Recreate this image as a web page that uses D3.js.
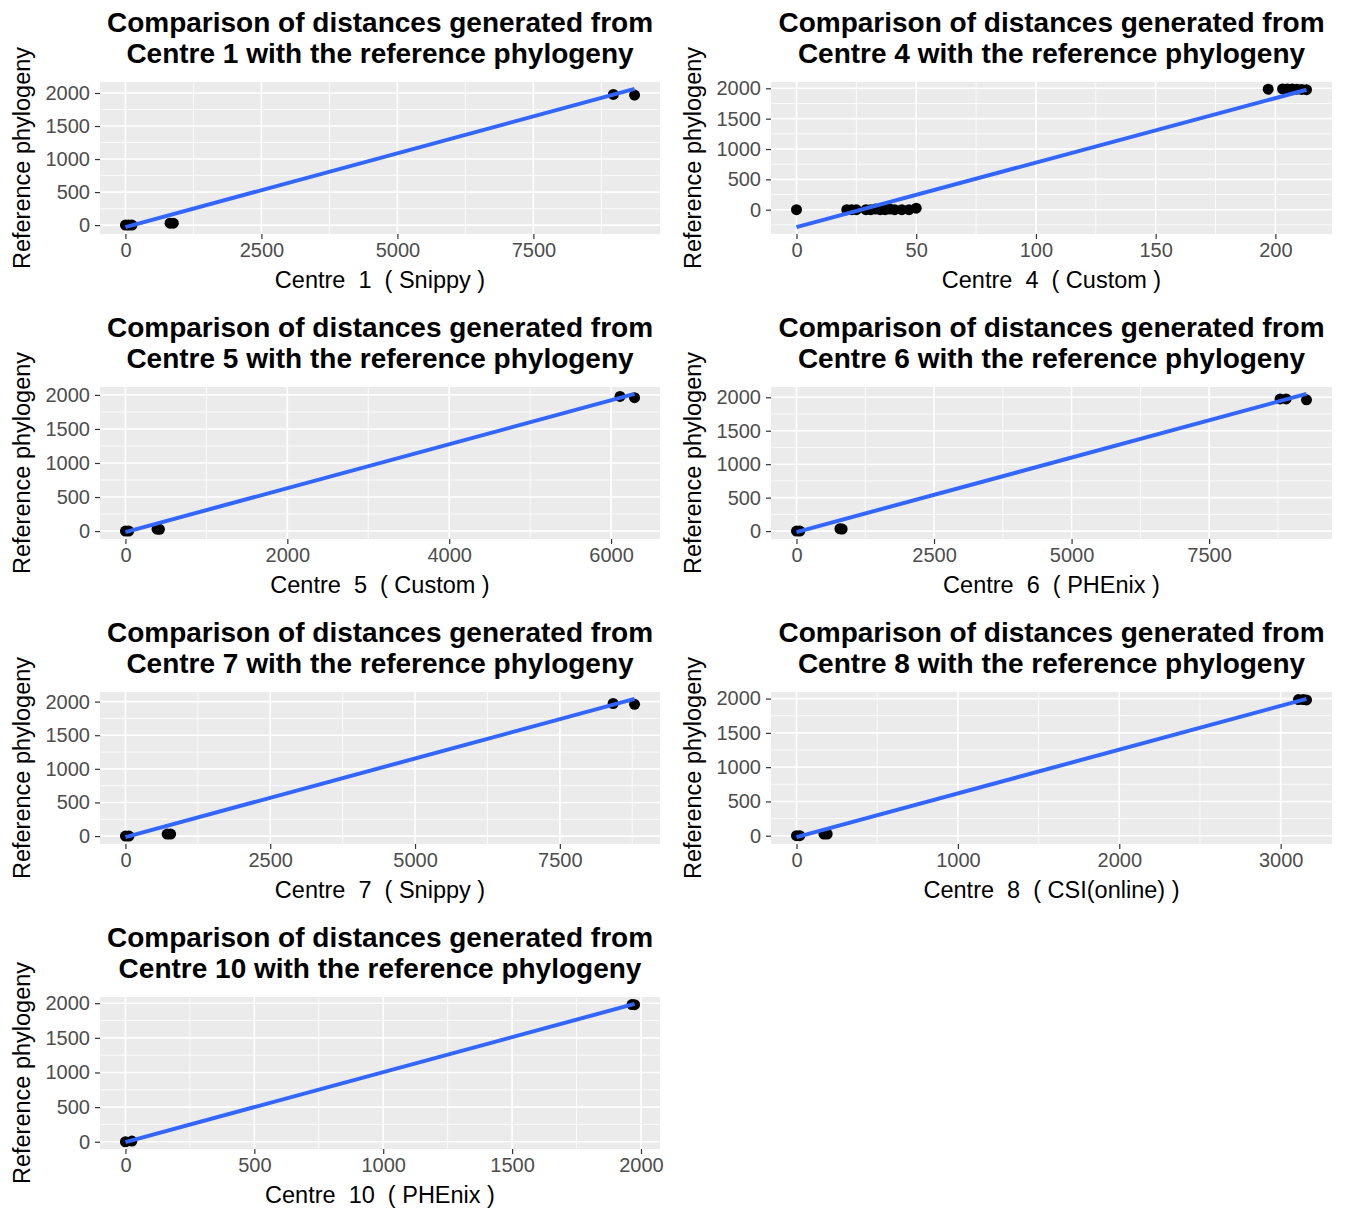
<!DOCTYPE html>
<html>
<head>
<meta charset="utf-8">
<script src="https://cdn.jsdelivr.net/npm/d3@7"></script>
<style>
  html, body { margin: 0; padding: 0; background: #ffffff; }
  svg text { font-family: "Liberation Sans", Arial, Helvetica, sans-serif; }
</style>
</head>
<body>
<svg id="chart" width="1348" height="1209"></svg>
<script>
// ---------------- DATA ----------------
const centres   = ["1", "4", "5", "6", "7", "8", "10"];
const pipelines = ["Snippy", "Custom", "Custom", "PHEnix", "Snippy", "CSI(online)", "PHEnix"];

// pairwise distances: x = centre's distance, y = reference phylogeny distance
const pointsX = [
  [0, 60, 120, 820, 880, 8970, 9360],
  [0, 21, 23, 25, 29, 31, 33, 35, 37, 39, 41, 44, 47, 50, 197, 203, 205, 207, 209, 211, 213],
  [0, 40, 390, 420, 6110, 6290],
  [0, 60, 790, 830, 8790, 8900, 9270],
  [0, 60, 720, 780, 8420, 8790],
  [0, 20, 170, 190, 3110, 3140, 3160],
  [0, 25, 1965, 1975]
];
const pointsY = [
  [0, 0, 0, 30, 30, 1978, 1968],
  [0, 0, 0, 0, 0, 0, 10, 0, 0, 10, 0, 0, 0, 25, 1985, 1990, 1990, 1988, 1985, 1982, 1978],
  [0, 0, 30, 25, 1978, 1960],
  [0, 0, 35, 30, 1975, 1975, 1962],
  [0, 0, 30, 30, 1972, 1960],
  [0, 0, 25, 25, 1985, 1985, 1980],
  [0, 10, 1980, 1978]
];
// linear fit (geom_smooth, method = "lm")
const fitIntercept = [-30, -286, -15, -15, -15, -20, -5];
const fitSlope     = [0.2235, 10.62, 0.3227, 0.2228, 0.2338, 0.6377, 1.01];

const xTicks = [
  [0, 2500, 5000, 7500],
  [0, 50, 100, 150, 200],
  [0, 2000, 4000, 6000],
  [0, 2500, 5000, 7500],
  [0, 2500, 5000, 7500],
  [0, 1000, 2000, 3000],
  [0, 500, 1000, 1500, 2000]
];
const yTicks = [0, 500, 1000, 1500, 2000];

const titleLine1 = "Comparison of distances generated from";
const yTitle = "Reference phylogeny";

// ---------------- LAYOUT ----------------
const svg = d3.select("#chart");
const colLeft = [100, 771];
const plotW = [560, 561];
const rowTop = [82, 387, 692, 997];
const plotH = 152;

const BG = "#EBEBEB";

function minorBreaks(majors, dom) {
  const step = majors[1] - majors[0];
  const out = [];
  for (let v = majors[0] - step / 2; v <= majors[majors.length - 1] + step / 2 + 1e-9; v += step) {
    if (v >= dom[0] && v <= dom[1]) out.push(v);
  }
  return out;
}

centres.forEach((c, i) => {
  const col = i % 2, row = Math.floor(i / 2);
  const L = colLeft[col], T = rowTop[row], W = plotW[col], H = plotH;
  const px = pointsX[i], py = pointsY[i];
  const xmin = d3.min(px), xmax = d3.max(px);
  const lineY0 = fitIntercept[i] + fitSlope[i] * xmin;
  const lineY1 = fitIntercept[i] + fitSlope[i] * xmax;
  const ymin = Math.min(d3.min(py), lineY0, lineY1);
  const ymax = Math.max(d3.max(py), lineY0, lineY1);
  const xe = (xmax - xmin) * 0.05, ye = (ymax - ymin) * 0.05;
  const xDom = [xmin - xe, xmax + xe], yDom = [ymin - ye, ymax + ye];

  const x = d3.scaleLinear().domain(xDom).range([L, L + W]);
  const y = d3.scaleLinear().domain(yDom).range([T + H, T]);

  const g = svg.append("g");

  // panel background
  g.append("rect").attr("x", L).attr("y", T).attr("width", W).attr("height", H).attr("fill", BG);

  // minor grid
  minorBreaks(xTicks[i], xDom).forEach(v => {
    g.append("line").attr("x1", x(v)).attr("x2", x(v)).attr("y1", T).attr("y2", T + H)
      .attr("stroke", "#fff").attr("stroke-width", 0.8);
  });
  minorBreaks(yTicks, yDom).forEach(v => {
    g.append("line").attr("y1", y(v)).attr("y2", y(v)).attr("x1", L).attr("x2", L + W)
      .attr("stroke", "#fff").attr("stroke-width", 0.8);
  });
  // major grid
  xTicks[i].forEach(v => {
    g.append("line").attr("x1", x(v)).attr("x2", x(v)).attr("y1", T).attr("y2", T + H)
      .attr("stroke", "#fff").attr("stroke-width", 1.6);
  });
  yTicks.forEach(v => {
    g.append("line").attr("y1", y(v)).attr("y2", y(v)).attr("x1", L).attr("x2", L + W)
      .attr("stroke", "#fff").attr("stroke-width", 1.6);
  });

  // axes
  const xAxis = d3.axisBottom(x).tickValues(xTicks[i]).tickSize(5).tickPadding(4).tickFormat(d3.format("d"));
  const yAxis = d3.axisLeft(y).tickValues(yTicks).tickSize(5).tickPadding(5).tickFormat(d3.format("d"));
  const gx = g.append("g").attr("transform", `translate(0,${T + H})`).call(xAxis);
  const gy = g.append("g").attr("transform", `translate(${L},0)`).call(yAxis);
  [gx, gy].forEach(ax => {
    ax.select(".domain").remove();
    ax.selectAll(".tick line").attr("stroke", "#333333").attr("stroke-width", 1.2);
    ax.selectAll(".tick text").attr("fill", "#4D4D4D").style("font-size", "20px")
      .style("font-family", "'Liberation Sans', Arial, sans-serif");
  });

  // points
  g.append("g").selectAll("circle").data(px.map((v, k) => [v, py[k]])).join("circle")
    .attr("cx", d => x(d[0])).attr("cy", d => y(d[1])).attr("r", 5.5).attr("fill", "#000");

  // fitted line
  g.append("line")
    .attr("x1", x(xmin)).attr("y1", y(lineY0))
    .attr("x2", x(xmax)).attr("y2", y(lineY1))
    .attr("stroke", "#3366FF").attr("stroke-width", 4).attr("stroke-linecap", "butt");

  // titles
  const cx = L + W / 2;
  g.append("text").attr("x", cx).attr("y", T - 50).attr("text-anchor", "middle")
    .style("font-size", "28px").style("font-weight", "bold").attr("fill", "#000").text(titleLine1);
  g.append("text").attr("x", cx).attr("y", T - 19).attr("text-anchor", "middle")
    .style("font-size", "28px").style("font-weight", "bold").attr("fill", "#000")
    .text(`Centre ${c} with the reference phylogeny`);

  // x axis title
  g.append("text").attr("x", cx).attr("y", T + H + 54).attr("text-anchor", "middle")
    .style("font-size", "23.5px").style("white-space", "pre").attr("fill", "#000")
    .text(`Centre  ${c}  ( ${pipelines[i]} )`);

  // y axis title
  g.append("text").attr("transform", `translate(${L - 70},${T + H / 2}) rotate(-90)`)
    .attr("text-anchor", "middle")
    .style("font-size", "23.5px").attr("fill", "#000").text(yTitle);
});
</script>
</body>
</html>
